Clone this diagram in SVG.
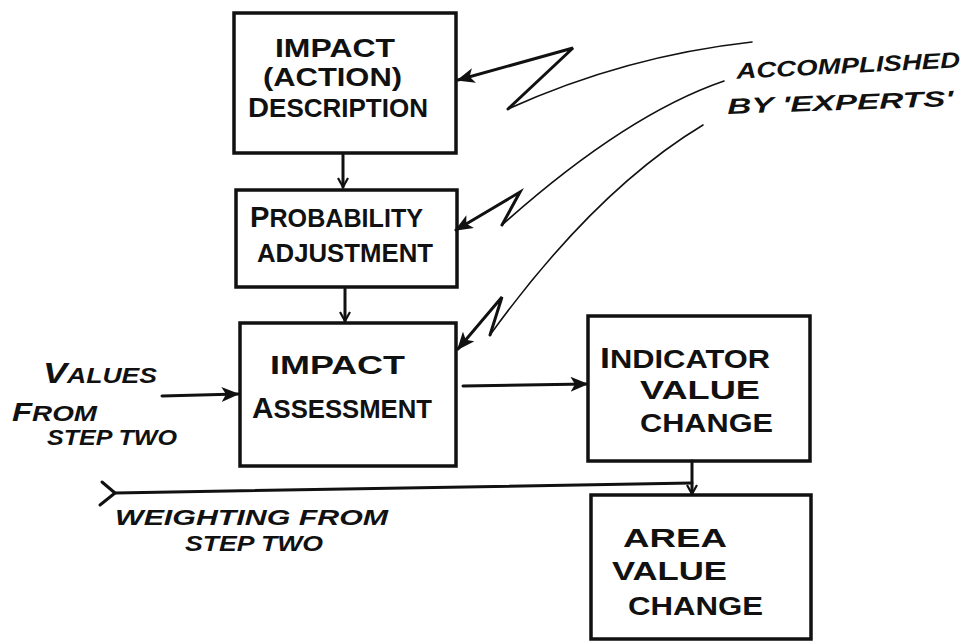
<svg xmlns="http://www.w3.org/2000/svg" width="966" height="642" viewBox="0 0 966 642">
<defs>
<style>
.box{fill:none;stroke:#111;stroke-width:3.5;stroke-linejoin:miter}
.lbl{font-family:"Liberation Sans","DejaVu Sans",sans-serif;font-size:25px;font-weight:bold;fill:#111}
.note{font-family:"Liberation Sans","DejaVu Sans",sans-serif;font-size:22px;font-weight:bold;font-style:italic;fill:#111}
.big{font-size:29px}
.conn{fill:none;stroke:#111;stroke-width:3;stroke-linecap:round;stroke-linejoin:round}
.thin{fill:none;stroke:#111;stroke-width:1.6;stroke-linecap:round}
.zig{fill:none;stroke:#111;stroke-width:3;stroke-linecap:round;stroke-linejoin:miter}
</style>
<marker id="head" viewBox="0 0 12 10" refX="11" refY="5" markerWidth="6" markerHeight="5" orient="auto" markerUnits="strokeWidth">
<path d="M0,0 L12,5 L0,10 L3,5 Z" fill="#111"/>
</marker>
<marker id="vee" viewBox="0 0 12 12" refX="10" refY="6" markerWidth="4" markerHeight="4" orient="auto" markerUnits="strokeWidth">
<path d="M1,1 L10,6 L1,11" fill="none" stroke="#111" stroke-width="2.2"/>
</marker>
</defs>
<rect width="966" height="642" fill="#fff"/>

<g id="node-impact-description">
<rect class="box" x="234" y="13" width="222" height="140"/>
<text class="lbl" x="275" y="57" font-size="24" textLength="120" lengthAdjust="spacingAndGlyphs">IMPACT</text>
<text class="lbl" x="263" y="86" font-size="24" textLength="139" lengthAdjust="spacingAndGlyphs">(ACTION)</text>
<text class="lbl" x="248" y="117" font-size="24" textLength="180" lengthAdjust="spacingAndGlyphs"><tspan font-size="28">D</tspan>ESCRIPTION</text>
</g>

<g id="node-probability-adjustment">
<rect class="box" x="236" y="190" width="221" height="97"/>
<text class="lbl" x="250" y="227" textLength="173" lengthAdjust="spacingAndGlyphs"><tspan class="big">P</tspan>ROBABILITY</text>
<text class="lbl" x="257" y="262" textLength="176" lengthAdjust="spacingAndGlyphs">ADJUSTMENT</text>
</g>

<g id="node-impact-assessment">
<rect class="box" x="240" y="323" width="216" height="143"/>
<text class="lbl" x="270" y="374" textLength="135" lengthAdjust="spacingAndGlyphs">IMPACT</text>
<text class="lbl" x="252" y="418" textLength="180" lengthAdjust="spacingAndGlyphs"><tspan class="big">A</tspan>SSESSMENT</text>
</g>

<g id="node-indicator-value-change">
<rect class="box" x="588" y="316" width="222" height="145"/>
<text class="lbl" x="600" y="368" textLength="170" lengthAdjust="spacingAndGlyphs"><tspan class="big">I</tspan>NDICATOR</text>
<text class="lbl" x="640" y="399" textLength="120" lengthAdjust="spacingAndGlyphs">VALUE</text>
<text class="lbl" x="640" y="432" textLength="133" lengthAdjust="spacingAndGlyphs">CHANGE</text>
</g>

<g id="node-area-value-change">
<rect class="box" x="591" y="495" width="220" height="144"/>
<text class="lbl" x="623" y="547" textLength="104" lengthAdjust="spacingAndGlyphs">AREA</text>
<text class="lbl" x="612" y="580" textLength="115" lengthAdjust="spacingAndGlyphs">VALUE</text>
<text class="lbl" x="628" y="615" textLength="135" lengthAdjust="spacingAndGlyphs">CHANGE</text>
</g>

<g id="labels">
<text class="note" x="43" y="383" textLength="114" lengthAdjust="spacingAndGlyphs"><tspan font-size="30">V</tspan>ALUES</text>
<text class="note" x="12" y="421" font-size="20" textLength="85" lengthAdjust="spacingAndGlyphs"><tspan font-size="26">F</tspan>ROM</text>
<text class="note" x="47" y="445" font-size="18" textLength="130" lengthAdjust="spacingAndGlyphs">STEP TWO</text>
<text class="note" x="115" y="525" font-size="21" textLength="273" lengthAdjust="spacingAndGlyphs">WEIGHTING FROM</text>
<text class="note" x="185" y="551" font-size="21" textLength="138" lengthAdjust="spacingAndGlyphs">STEP TWO</text>
<text class="note" x="736" y="73" textLength="224" lengthAdjust="spacingAndGlyphs" transform="rotate(-3 848 62)">ACCOMPLISHED</text>
<text class="note" x="727" y="110" font-size="24" textLength="226" lengthAdjust="spacingAndGlyphs" transform="rotate(-2 840 96)">BY 'EXPERTS'</text>
</g>

<g id="connectors">
<line class="conn" x1="343" y1="155" x2="343" y2="187" marker-end="url(#vee)"/>
<line class="conn" x1="345" y1="289" x2="345" y2="321" marker-end="url(#vee)"/>
<line class="conn" x1="162" y1="396" x2="238" y2="394" marker-end="url(#head)"/>
<line class="conn" x1="463" y1="386" x2="587" y2="384" marker-end="url(#head)"/>
<line class="conn" x1="692" y1="461" x2="692" y2="494" marker-end="url(#vee)"/>
<path class="conn" d="M102,482 L115,493 L100,505"/>
<path class="conn" d="M115,493 L692,483"/>
<path class="thin" d="M752,42 Q625,56 508,109"/>
<path class="zig" d="M508,109 L573,48 L458,80" marker-end="url(#head)"/>
<path class="thin" d="M724,81 Q625,115 502,225"/>
<path class="zig" d="M502,225 L520,192 L456,230" marker-end="url(#head)"/>
<path class="thin" d="M703,125 Q595,190 490,335"/>
<path class="zig" d="M490,335 L502,297 L458,349" marker-end="url(#head)"/>
</g>
</svg>
